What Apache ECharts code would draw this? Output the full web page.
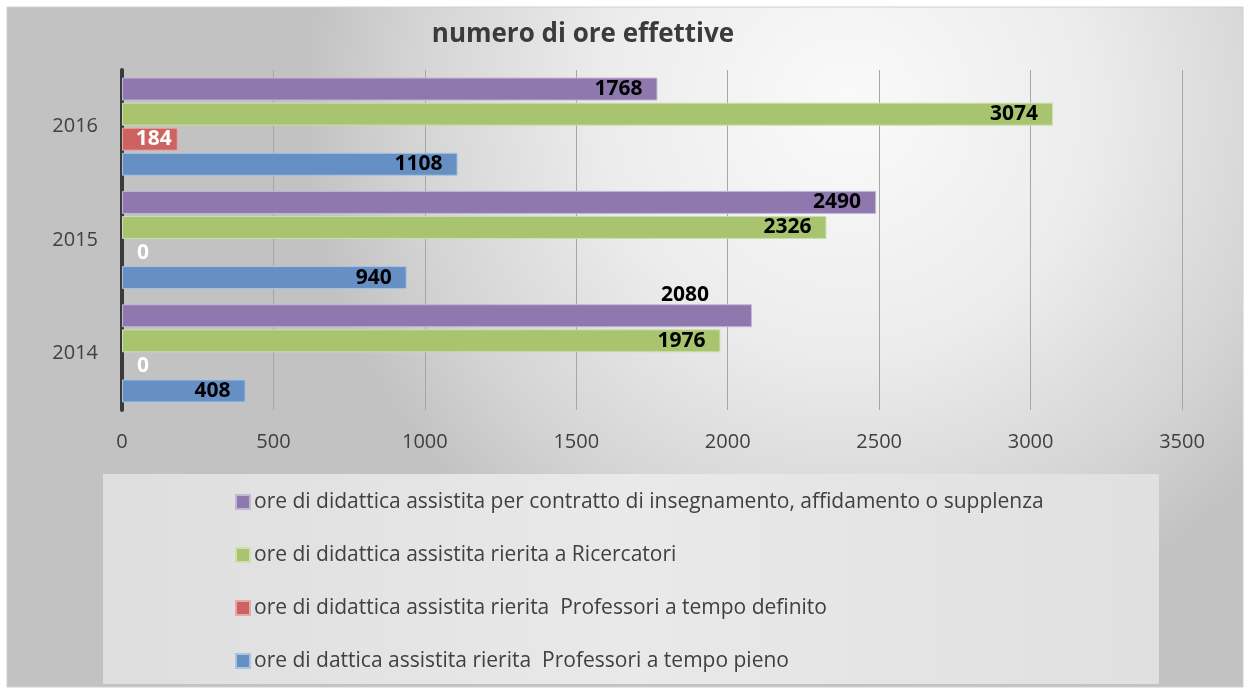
<!DOCTYPE html>
<html><head><meta charset="utf-8">
<script src="https://cdn.jsdelivr.net/npm/echarts@6/dist/echarts.min.js"></script>
<style>html,body{margin:0;padding:0;background:#fff}#c{width:1249px;height:688px}</style>
</head><body><div id="c"></div>
<script>
const categories = ['2014', '2015', '2016'];
const seriesNames = [
  'ore di didattica assistita per contratto di insegnamento, affidamento o supplenza',
  'ore di didattica assistita rierita a Ricercatori',
  'ore di didattica assistita rierita  Professori a tempo definito',
  'ore di dattica assistita rierita  Professori a tempo pieno'
];
const contratto = [2080, 2490, 1768];
const ricercatori = [1976, 2326, 3074];
const tempoDefinito = [0, 0, 184];
const tempoPieno = [408, 940, 1108];
const xTicks = [0, 500, 1000, 1500, 2000, 2500, 3000, 3500];

const colors = ['#8f78ae', '#a8c46f', '#cc6361', '#6690c4'];
const FONT = 'Open Sans';

const chart = echarts.init(document.getElementById('c'));
function lbl(color) {
  return {show: true, position: 'insideRight', distance: 15, color: color, fontFamily: FONT,
          fontWeight: 'bold', fontSize: 21};
}
chart.setOption({
  backgroundColor: 'transparent',
  animation: false,
  graphic: [
    {type: 'rect', z: -10, shape: {x: 7, y: 7, width: 1236, height: 680},
     style: {fill: new echarts.graphic.RadialGradient(0.68, 0.15, 0.8, [
       {offset: 0, color: '#fafafa'}, {offset: 0.45, color: '#ececec'}, {offset: 0.8, color: '#d4d4d4'}, {offset: 1, color: '#c2c2c2'}]),
       stroke: '#d0d0d0', lineWidth: 1}},
    {type: 'rect', z: -9, shape: {x: 103, y: 474, width: 1056, height: 210},
     style: {fill: new echarts.graphic.LinearGradient(0, 0, 1, 0, [
       {offset: 0, color: '#dedede'}, {offset: 0.5, color: '#e9e9e9'}, {offset: 1, color: '#e0e0e0'}])}}
  ],
  title: {text: 'numero di ore effettive', left: 578, top: 17, textAlign: 'center',
    textStyle: {fontFamily: FONT, fontWeight: 'bold', fontSize: 26, color: '#3b3b3b'}},
  grid: {left: 122, right: 67, top: 70, bottom: 278, containLabel: false},
  legend: {
    orient: 'vertical', left: 230, top: 485, itemWidth: 14, itemHeight: 14, itemGap: 29,
    icon: 'rect',
    data: seriesNames,
    textStyle: {fontFamily: FONT, fontSize: 21, color: '#404040', padding: [0, 0, 0, -1], lineHeight: 24}
  },
  xAxis: {
    type: 'value', min: 0, max: 3500, interval: 500,
    axisLine: {show: false}, axisTick: {show: false},
    axisLabel: {fontFamily: FONT, fontSize: 20, color: '#404040', margin: 22,
      formatter: v => xTicks.includes(v) ? String(v) : ''},
    splitLine: {show: true, lineStyle: {color: '#a6a6a6', width: 1}}
  },
  yAxis: {
    type: 'category', data: categories,
    axisLine: {show: true, lineStyle: {color: '#3a3a3a', width: 4}},
    axisTick: {show: false},
    axisLabel: {fontFamily: FONT, fontSize: 20, color: '#404040', margin: 24}
  },
  series: [
    {name: seriesNames[0], type: 'bar', itemStyle: {color: colors[0], borderColor: '#c3b6d6', borderWidth: 1},
     data: contratto.map((v, i) => i === 0 ? {value: v, label: {position: 'insideTopRight', distance: 5, offset: [-38, -25]}} : v),
     label: lbl('#000'), barWidth: 23, barGap: '9%', barCategoryGap: '17%'},
    {name: seriesNames[1], type: 'bar', data: ricercatori, itemStyle: {color: colors[1], borderColor: '#cde0b0', borderWidth: 1},
     label: lbl('#000'), barWidth: 23},
    {name: seriesNames[2], type: 'bar', itemStyle: {color: colors[2], borderColor: '#e6a9a8', borderWidth: 1},
     data: tempoDefinito.map(v => v === 0 ? {value: v, itemStyle: {borderWidth: 0}, label: {position: 'insideLeft', distance: 15}} : {value: v, label: {distance: 6}}),
     label: lbl('#fff'), barWidth: 23},
    {name: seriesNames[3], type: 'bar', data: tempoPieno, itemStyle: {color: colors[3], borderColor: '#a9c3e3', borderWidth: 1},
     label: lbl('#000'), barWidth: 23}
  ]
});
</script></body></html>
